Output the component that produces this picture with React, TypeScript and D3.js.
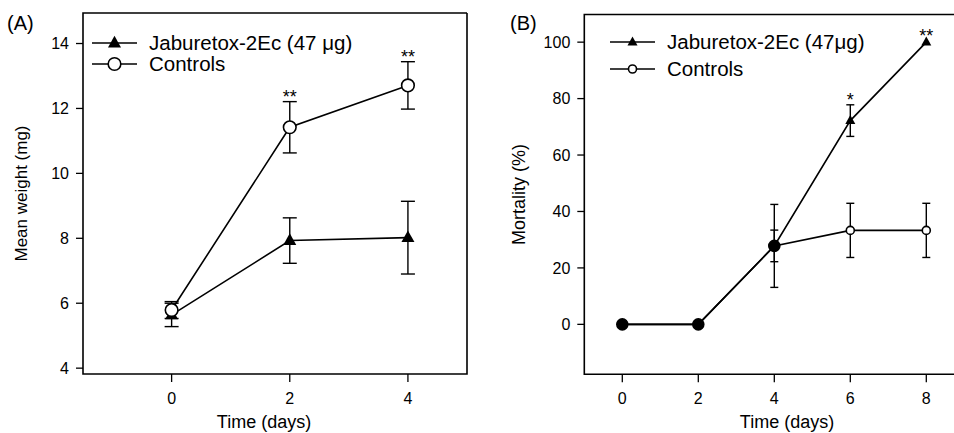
import React, { useEffect } from 'react';
import * as d3 from 'd3';

// Panel A: mean larval weight
const daysA = [0, 2, 4];
const jabWeight = [5.64, 7.93, 8.02];
const jabWeightErr = [0.36, 0.7, 1.12];
const ctrlWeight = [5.79, 11.42, 12.71];
const ctrlWeightErr = [0.26, 0.79, 0.73];
const ctrlWeightStars = ['', '**', '**'];
const weightTicks = [4, 6, 8, 10, 12, 14];

// Panel B: mortality
const daysB = [0, 2, 4, 6, 8];
const jabMort = [0, 0, 27.8, 72.2, 100];
const jabMortErr = [0, 0, 14.7, 5.6, 0];
const ctrlMort = [0, 0, 27.8, 33.3, 33.3];
const ctrlMortErr = [0, 0, 5.6, 9.6, 9.6];
const jabMortStars = ['', '', '', '*', '**'];
const mortTicks = [0, 20, 40, 60, 80, 100];

const FONT = 'Liberation Sans, Arial, sans-serif';

type Series = { vals: number[]; errs: number[]; stars?: string[] };

function tri(cx: number, cy: number, s: number) {
  const h = s * 0.9;
  return `M${cx},${cy - h * 0.62}L${cx + s / 2},${cy + h * 0.38}L${cx - s / 2},${cy + h * 0.38}Z`;
}

function Panel(props: {
  label: string; labelX: number;
  days: number[]; xDomain: [number, number]; xRange: [number, number];
  yTicks: number[]; yDomain: [number, number]; yRange: [number, number];
  jab: Series; ctrl: Series;
  circleR: number; triS: number; cap: number;
  yTitle: string; yTitleX: number; yTitleSize: number; xTitleX: number;
  legend: { x1: number; x2: number; y1: number; y2: number; tx: number; jabText: string };
  frameRight: number;
}) {
  const { days, jab, ctrl, legend } = props;
  const x = d3.scaleLinear().domain(props.xDomain).range(props.xRange);
  const y = d3.scaleLinear().domain(props.yDomain).range(props.yRange);
  const line = d3.line<number>().x((_, i) => x(days[i])).y(v => y(v));
  const [left, right] = [props.xRange[0], props.frameRight];
  const [bottom, top] = props.yRange;

  const errBars = (s: Series, key: string) =>
    s.vals.map((v, i) => s.errs[i] > 0 ? (
      <g key={key + i} stroke="#000" strokeWidth={1.4}>
        <line x1={x(days[i])} x2={x(days[i])} y1={y(v - s.errs[i])} y2={y(v + s.errs[i])} />
        <line x1={x(days[i]) - props.cap} x2={x(days[i]) + props.cap} y1={y(v - s.errs[i])} y2={y(v - s.errs[i])} />
        <line x1={x(days[i]) - props.cap} x2={x(days[i]) + props.cap} y1={y(v + s.errs[i])} y2={y(v + s.errs[i])} />
      </g>
    ) : null);

  const stars = (s: Series, key: string) =>
    (s.stars || []).map((st, i) => st ? (
      <text key={key + i} x={x(days[i])} y={y(s.vals[i] + s.errs[i]) + (s.errs[i] > 0 ? 1 : 0)}
        textAnchor="middle" fontSize={18} fontFamily={FONT}>{st}</text>
    ) : null);

  return (
    <g>
      <text x={props.labelX} y={30} fontSize={20} fontFamily={FONT}>{props.label}</text>
      {/* frame */}
      <path d={`M${right},${top}H${left}V${bottom}H${right}V${top}`} fill="none" stroke="#000" strokeWidth={1.6} />
      {/* y ticks */}
      {props.yTicks.map(t => (
        <g key={'yt' + t}>
          <line x1={left - 7} x2={left} y1={y(t)} y2={y(t)} stroke="#000" strokeWidth={1.3} />
          <text x={left - 14} y={y(t) + 5.8} textAnchor="end" fontSize={16} fontFamily={FONT}>{t}</text>
        </g>
      ))}
      {/* x ticks */}
      {days.map(t => (
        <g key={'xt' + t}>
          <line x1={x(t)} x2={x(t)} y1={bottom} y2={bottom + 8} stroke="#000" strokeWidth={1.3} />
          <text x={x(t)} y={404} textAnchor="middle" fontSize={16} fontFamily={FONT}>{t}</text>
        </g>
      ))}
      <text x={props.xTitleX} y={428} textAnchor="middle" fontSize={18} fontFamily={FONT}>Time (days)</text>
      <text transform={`translate(${props.yTitleX},${(top + bottom) / 2}) rotate(-90)`} dy="0.35em"
        textAnchor="middle" fontSize={props.yTitleSize} fontFamily={FONT}>{props.yTitle}</text>

      {errBars(ctrl, 'ce')}
      {errBars(jab, 'je')}
      <path d={line(ctrl.vals) || ''} fill="none" stroke="#000" strokeWidth={1.6} />
      <path d={line(jab.vals) || ''} fill="none" stroke="#000" strokeWidth={1.6} />
      {jab.vals.map((v, i) => (
        <path key={'jm' + i} d={tri(x(days[i]), y(v), props.triS)} fill="#000" />
      ))}
      {ctrl.vals.map((v, i) => {
        const overlap = v === jab.vals[i];
        return (
          <circle key={'cm' + i} cx={x(days[i])} cy={y(v)} r={overlap ? props.circleR + 1.5 : props.circleR}
            fill={overlap ? '#000' : '#fff'} stroke="#000" strokeWidth={1.6} />
        );
      })}
      {stars(ctrl, 'cs')}
      {stars(jab, 'js')}

      {/* legend */}
      <line x1={legend.x1} x2={legend.x2} y1={legend.y1} y2={legend.y1} stroke="#000" strokeWidth={1.6} />
      <path d={tri((legend.x1 + legend.x2) / 2, legend.y1, props.triS)} fill="#000" />
      <text x={legend.tx} y={legend.y1 + 7} fontSize={20.5} fontFamily={FONT}>{legend.jabText}</text>
      <line x1={legend.x1} x2={legend.x2} y1={legend.y2} y2={legend.y2} stroke="#000" strokeWidth={1.6} />
      <circle cx={(legend.x1 + legend.x2) / 2} cy={legend.y2} r={props.circleR} fill="#fff" stroke="#000" strokeWidth={1.6} />
      <text x={legend.tx} y={legend.y2 + 7} fontSize={20.5} fontFamily={FONT}>Controls</text>
    </g>
  );
}

export default function App() {
  useEffect(() => {
    document.body.style.margin = '0';
  }, []);

  return (
    <svg width={954} height={433} style={{ display: 'block', background: '#fff' }}>
      <Panel
        label="(A)" labelX={7}
        days={daysA} xDomain={[-1.5, 5]} xRange={[83, 467]}
        yTicks={weightTicks} yDomain={[3.82, 14.94]} yRange={[374, 13]}
        jab={{ vals: jabWeight, errs: jabWeightErr }}
        ctrl={{ vals: ctrlWeight, errs: ctrlWeightErr, stars: ctrlWeightStars }}
        circleR={6.3} triS={13} cap={7}
        yTitle="Mean weight (mg)" yTitleX={21} yTitleSize={17} xTitleX={264}
        legend={{ x1: 92, x2: 137, y1: 43, y2: 64, tx: 149, jabText: 'Jaburetox-2Ec (47 μg)' }}
        frameRight={467}
      />
      <Panel
        label="(B)" labelX={510}
        days={daysB} xDomain={[-1, 8.7]} xRange={[584.3, 952.9]}
        yTicks={mortTicks} yDomain={[-17.7, 109.8]} yRange={[374.3, 14.5]}
        jab={{ vals: jabMort, errs: jabMortErr, stars: jabMortStars }}
        ctrl={{ vals: ctrlMort, errs: ctrlMortErr }}
        circleR={4} triS={10} cap={4}
        yTitle="Mortality (%)" yTitleX={519} yTitleSize={18} xTitleX={787}
        legend={{ x1: 610, x2: 655, y1: 42, y2: 69, tx: 667, jabText: 'Jaburetox-2Ec (47μg)' }}
        frameRight={960}
      />
    </svg>
  );
}
